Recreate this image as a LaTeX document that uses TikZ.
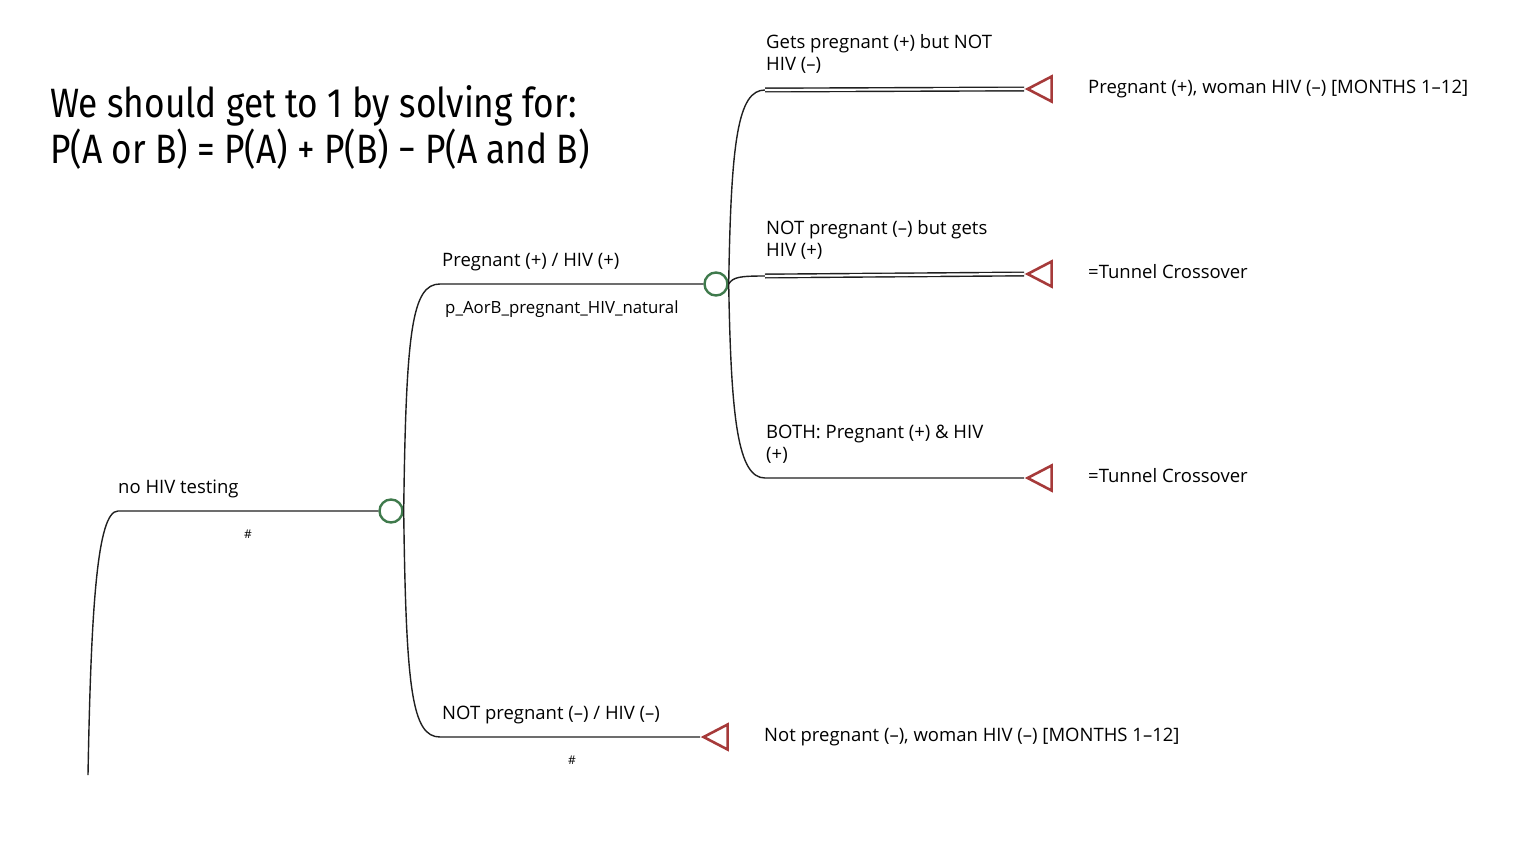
\documentclass[tikz,border=0pt]{standalone}
\usepackage{fontspec}
\setmainfont{Open Sans}
\newfontfamily\titulofonte[FakeStretch=0.86]{Fira Sans}
\usetikzlibrary{
  positioning,
  shapes.geometric,
  calc
}
\definecolor{verdeno}{HTML}{3F7A4C}
\definecolor{vermelhono}{HTML}{A63A3A}
\tikzset{
  chance/.style={circle, draw=verdeno, line width=2.4pt, minimum size=23pt, inner sep=0pt},
  terminal/.style={isosceles triangle, isosceles triangle stretches, shape border rotate=180,
    draw=vermelhono, line width=2.6pt, minimum width=25pt, minimum height=24pt, inner sep=0pt},
  galho/.style={line width=1.4pt, draw=black!88},
  duplo/.style={double, double distance=2.2pt, line width=1.4pt, draw=black!88},
  rotulo/.style={anchor=base west, inner sep=0pt, font=\fontsize{18.5}{22}\selectfont, align=left},
  prob/.style={anchor=base, inner sep=0pt, font=\fontsize{12}{14}\selectfont}
}

\begin{document}
\begin{tikzpicture}[x=1pt, y=-1pt]
        \useasboundingbox (0,0) rectangle (1538,856);

        % Titulo com a formula
        \node[anchor=base west, inner sep=0pt, align=left, font=\titulofonte\fontsize{41}{46}\selectfont]
          (titulo) at (50,163) {We should get to 1 by solving for:\\P(A or B) = P(A) + P(B) − P(A and B)};

        % Nos de chance e terminais
        \coordinate (raiz) at (88,775);
        \node[chance] (c1) at (391,511) {};
        \node[chance] (c2) at (716,284) {};
        \node[terminal] (t1) at (1044,89) {};
        \node[terminal] (t2) at (1044,274) {};
        \node[terminal] (t3) at (1044,478) {};
        \node[terminal] (t4) at (720,737) {};

        % Pontos onde os galhos ficam horizontais
        \coordinate (r1) at (118,511);
        \coordinate (g1) at (440,284);
        \coordinate (g2) at (440,737);
        \coordinate (h1) at (765,90);
        \coordinate (h2) at (765,276);
        \coordinate (h3) at (765,478);

        % Galhos
        \draw[galho] (raiz) .. controls (91,610) and (97,511) .. (r1) -- (c1.west);
        \draw[galho] (c1.east) .. controls (406,330) and (412,284) .. (g1) -- (c2.west);
        \draw[galho] (c1.east) .. controls (406,690) and (412,737) .. (g2) -- (t4.apex);
        \draw[galho] (c2.east) .. controls (731,140) and (738,90) .. (h1);
        \draw[galho] (c2.east) .. controls (733,277) and (740,276) .. (h2);
        \draw[galho] (c2.east) .. controls (731,420) and (738,478) .. (h3) -- (t3.apex);
        \draw[duplo] (h1) -- (t1.apex);
        \draw[duplo] (h2) -- (t2.apex);

        % Rotulos dos galhos
        \node[rotulo] (l0) at (118,493) {no HIV testing};
        \node[prob] (p0) at (248,538) {\#};
        \node[rotulo] (l1) at (442,266) {Pregnant (+) / HIV (+)};
        \node[rotulo, font=\fontsize{16.8}{20}\selectfont] (p1) at (445,313) {p\_AorB\_pregnant\_HIV\_natural};
        \node[rotulo] (l2) at (442,719) {NOT pregnant (–) / HIV (–)};
        \node[prob] (p2) at (572,764) {\#};
        \node[rotulo] (l3) at (766,71) {Gets pregnant (+) but NOT\\HIV (–)};
        \node[rotulo] (l4) at (766,256) {NOT pregnant (–) but gets\\HIV (+)};
        \node[rotulo] (l5) at (766,460) {BOTH: Pregnant (+) \& HIV\\(+)};

        % Rotulos dos terminais
        \node[rotulo] (e1) at (1088,94) {Pregnant (+), woman HIV (–) [MONTHS 1–12]};
        \node[rotulo] (e2) at (1088,278) {=Tunnel Crossover};
        \node[rotulo] (e3) at (1088,482) {=Tunnel Crossover};
        \node[rotulo] (e4) at (764,741) {Not pregnant (–), woman HIV (–) [MONTHS 1–12]};
    \end{tikzpicture}
\end{document}
